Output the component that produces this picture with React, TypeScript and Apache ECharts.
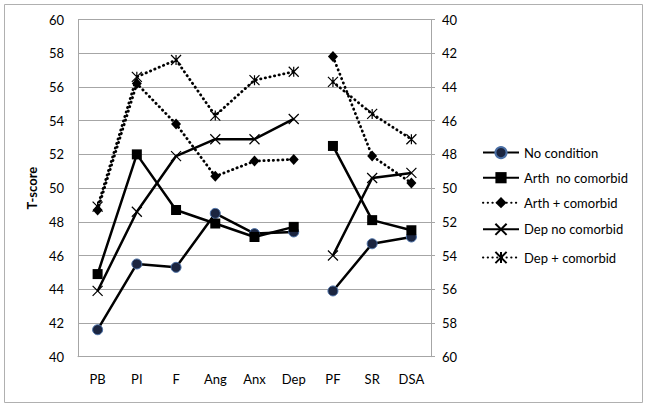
import React, { useEffect, useRef } from "react";
import * as echarts from "echarts";

const categories = ["PB", "PI", "F", "Ang", "Anx", "Dep", "PF", "SR", "DSA"];
const yTicks = [40, 42, 44, 46, 48, 50, 52, 54, 56, 58, 60];

const noCondition = [41.6, 45.5, 45.3, 48.5, 47.3, 47.4, 43.9, 46.7, 47.1];
const arthNoComorbid = [44.9, 52.0, 48.7, 47.9, 47.1, 47.7, 52.5, 48.1, 47.5];
const arthComorbid = [48.7, 56.2, 53.8, 50.7, 51.6, 51.7, 57.8, 51.9, 50.3];
const depNoComorbid = [43.9, 48.6, 51.9, 52.9, 52.9, 54.1, 46.0, 50.6, 50.9];
const depComorbid = [48.9, 56.6, 57.6, 54.3, 56.4, 56.9, 56.3, 54.4, 52.9];

const seriesNames = [
  "No condition",
  "Arth  no comorbid",
  "Arth + comorbid",
  "Dep no comorbid",
  "Dep + comorbid",
];

const X_PATH = "path://M0,0 L10,10 M10,0 L0,10";
const STAR_PATH = "path://M0,0 L10,10 M10,0 L0,10 M5,0 L5,10";

export default function App() {
  const ref = useRef<HTMLDivElement>(null);
  useEffect(() => {
    if (!ref.current) return;
    const chart = echarts.init(ref.current, null, { renderer: "svg" });
    const font = "Lato, 'Open Sans', sans-serif";
    const splitAt = 6;
    const seg = (arr: number[], first: boolean) =>
      arr.map((v, i) => (first ? (i < splitAt ? v : "-") : i >= splitAt ? v : "-"));

    const dotted = { color: "#000", width: 2.8, type: [0.3, 4.4], cap: "round" };
    const solid = { color: "#000", width: 2.5, type: "solid" };
    const styles: any[] = [
      {
        symbol: "circle",
        symbolSize: 10,
        itemStyle: { color: "#1b2540", borderColor: "#4a6fa5", borderWidth: 1 },
        lineStyle: solid,
      },
      {
        symbol: "rect",
        symbolSize: 10,
        itemStyle: { color: "#000" },
        lineStyle: solid,
      },
      {
        symbol: "diamond",
        symbolSize: [10, 11],
        itemStyle: { color: "#000" },
        lineStyle: dotted,
      },
      {
        symbol: X_PATH,
        symbolSize: 10,
        itemStyle: { color: "none", borderColor: "#000", borderWidth: 1.2 },
        lineStyle: solid,
      },
      {
        symbol: STAR_PATH,
        symbolSize: 10,
        itemStyle: { color: "none", borderColor: "#000", borderWidth: 1.2 },
        lineStyle: dotted,
      },
    ];
    const data = [noCondition, arthNoComorbid, arthComorbid, depNoComorbid, depComorbid];
    const series: any[] = [];
    data.forEach((arr, k) => {
      [true, false].forEach((first) => {
        series.push({
          type: "line",
          name: seriesNames[k],
          data: seg(arr, first),
          yAxisIndex: 0,
          showAllSymbol: true,
          connectNulls: false,
          z: 2 + k,
          ...styles[k],
        });
      });
    });

    chart.setOption({
      animation: false,
      textStyle: { fontFamily: font },
      grid: { left: 78, right: 216, top: 19.5, bottom: 51.3 },
      graphic: [
        {
          type: "rect",
          shape: { x: 4.5, y: 4.5, width: 638, height: 398 },
          style: { fill: "none", stroke: "#b0b0b0", lineWidth: 1 },
          silent: true,
        },
      ],
      legend: {
        orient: "vertical",
        left: 477,
        top: 141,
        itemWidth: 36,
        itemHeight: 14,
        itemGap: 12,
        textStyle: { fontFamily: font, fontSize: 13, color: "#000" },
        data: seriesNames,
      },
      xAxis: {
        type: "category",
        data: categories,
        boundaryGap: true,
        axisLine: { show: true, lineStyle: { color: "#a6a6a6", width: 1 } },
        axisTick: { show: false },
        axisLabel: { color: "#000", fontSize: 13, margin: 16, fontFamily: font },
      },
      yAxis: [
        {
          type: "value",
          min: yTicks[0],
          max: yTicks[yTicks.length - 1],
          interval: 2,
          name: "T-score",
          nameLocation: "middle",
          nameGap: 40,
          nameTextStyle: { fontWeight: "bold", fontSize: 13, color: "#000", fontFamily: font },
          axisLine: { show: true, lineStyle: { color: "#a6a6a6", width: 1 } },
          axisTick: { show: false },
          splitLine: { show: true, lineStyle: { color: "#a6a6a6", width: 1 } },
          axisLabel: { color: "#000", fontSize: 13, margin: 14, fontFamily: font },
        },
        {
          type: "value",
          min: yTicks[0],
          max: yTicks[yTicks.length - 1],
          interval: 2,
          inverse: true,
          position: "right",
          axisLine: { show: true, lineStyle: { color: "#a6a6a6", width: 1 } },
          axisTick: { show: true, length: 4, lineStyle: { color: "#a6a6a6" } },
          splitLine: { show: false },
          axisLabel: { color: "#000", fontSize: 13, margin: 11, fontFamily: font },
        },
      ],
      series,
    });
    return () => chart.dispose();
  }, []);
  return (
    <div
      ref={ref}
      style={{ position: "fixed", left: 0, top: 0, width: 647, height: 408, background: "#fff" }}
    />
  );
}
